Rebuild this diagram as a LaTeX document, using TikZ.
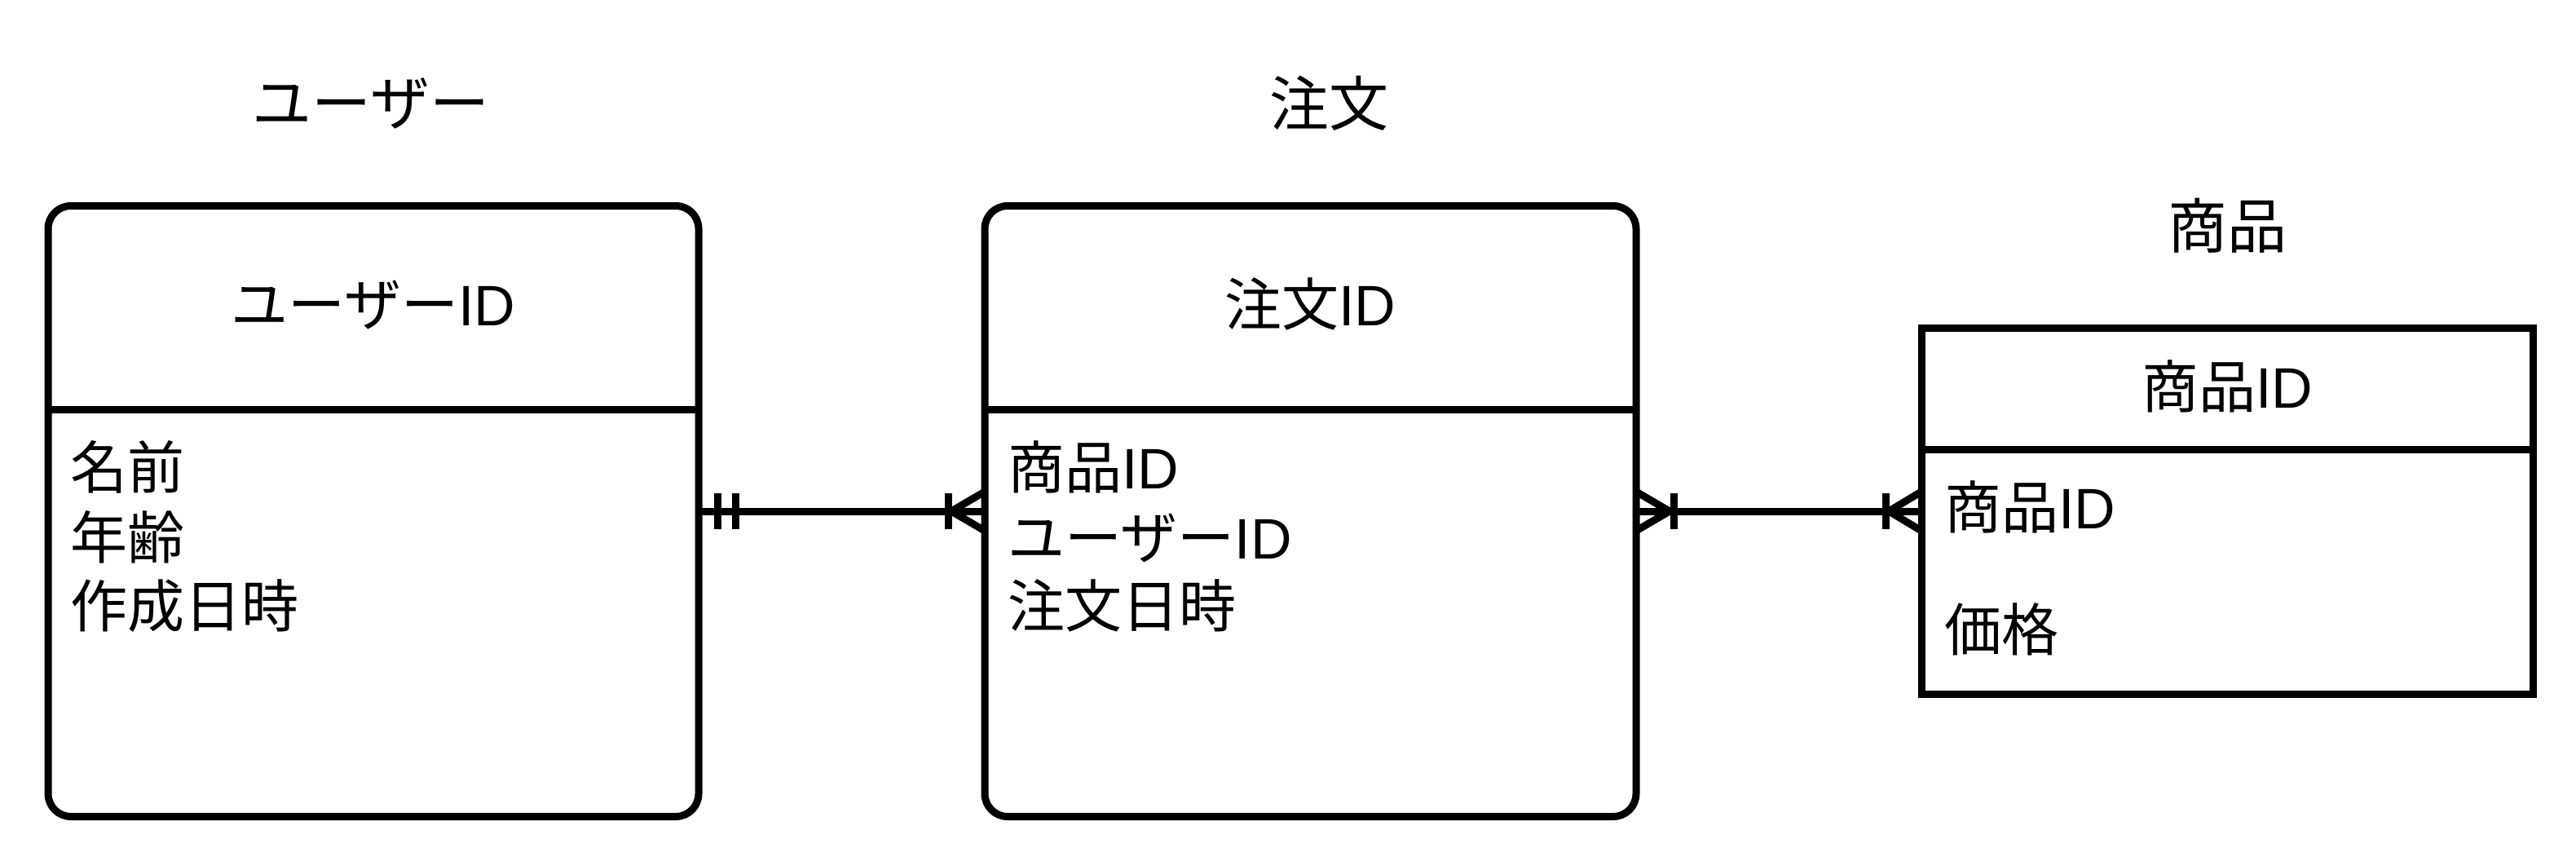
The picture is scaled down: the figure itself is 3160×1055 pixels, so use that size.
\documentclass[tikz,border=0pt]{standalone}
\usepackage{fontspec}
\setmainfont{Liberation Sans}
\newfontfamily\jp{Noto Sans CJK JP}
\usetikzlibrary{calc}
\begin{document}
\begin{tikzpicture}[x=1pt,y=-1pt,
  ent/.style={draw=black, line width=9pt, outer sep=0pt, inner sep=0pt, fill=white},
  rent/.style={ent, rounded corners=28pt},
  conn/.style={draw=black, line width=9pt, line cap=butt},
  txt/.style={inner sep=0pt, font=\fontsize{70}{84}\selectfont, anchor=base west},
  hdr/.style={inner sep=0pt, font=\fontsize{70}{84}\selectfont, anchor=base},
  ttl/.style={inner sep=0pt, font=\fontsize{73}{88}\selectfont, anchor=base}]
\useasboundingbox (0,0) rectangle (3160,1055);

% entities
\node[rent, minimum width=798pt, minimum height=749pt] (user) at (458,627) {};
\node[rent, minimum width=799pt, minimum height=749pt] (order) at (1607.5,627) {};
\node[ent, minimum width=750pt, minimum height=449pt] (prod) at (2732,627) {};

% dividers
\coordinate (ud1) at (user.west |- 0,502);
\coordinate (ud2) at (user.east |- 0,502);
\coordinate (od1) at (order.west |- 0,502);
\coordinate (od2) at (order.east |- 0,502);
\coordinate (pd1) at (prod.west |- 0,551);
\coordinate (pd2) at (prod.east |- 0,551);
\draw[conn] (ud1) -- (ud2);
\draw[conn] (od1) -- (od2);
\draw[conn] (pd1) -- (pd2);

% titles
\node[ttl] (tuser) at (455,153) {\jp ユーザー};
\node[ttl] (torder) at (1630,154) {\jp 注文};
\node[ttl] (tprod) at (2732,304) {\jp 商品};

% headers
\node[hdr] (huser) at (458,399) {{\jp ユーザー}ID};
\node[hdr] (horder) at (1607.5,399) {{\jp 注文}ID};
\node[hdr] (hprod) at (2732,500) {{\jp 商品}ID};

% attributes
\node[txt] (u1) at (86,599) {\jp 名前};
\node[txt] (u2) at (86,685) {\jp 年齢};
\node[txt] (u3) at (86,769) {\jp 作成日時};
\node[txt] (o1) at (1236,599) {{\jp 商品}ID};
\node[txt] (o2) at (1236,685) {{\jp ユーザー}ID};
\node[txt] (o3) at (1236,769) {\jp 注文日時};
\node[txt] (p1) at (2385,648) {{\jp 商品}ID};
\node[txt] (p2) at (2385,798) {\jp 価格};

% connectors
\draw[conn] (user.east) -- (order.west);
\draw[conn] (order.east) -- (prod.west);

% user side: mandatory one (double bar)
\draw[conn] ($(user.east)+(23,-22)$) -- ($(user.east)+(23,22)$);
\draw[conn] ($(user.east)+(45,-22)$) -- ($(user.east)+(45,22)$);
% order left: one or many
\draw[conn] ($(order.west)+(0,-24)$) -- ($(order.west)+(-41,0)$) -- ($(order.west)+(0,24)$);
\draw[conn] ($(order.west)+(-45,-22)$) -- ($(order.west)+(-45,22)$);
% order right: one or many
\draw[conn] ($(order.east)+(0,-24)$) -- ($(order.east)+(41,0)$) -- ($(order.east)+(0,24)$);
\draw[conn] ($(order.east)+(46,-22)$) -- ($(order.east)+(46,22)$);
% product left: one or many
\draw[conn] ($(prod.west)+(0,-24)$) -- ($(prod.west)+(-40,0)$) -- ($(prod.west)+(0,24)$);
\draw[conn] ($(prod.west)+(-44,-22)$) -- ($(prod.west)+(-44,22)$);
\end{tikzpicture}
\end{document}
